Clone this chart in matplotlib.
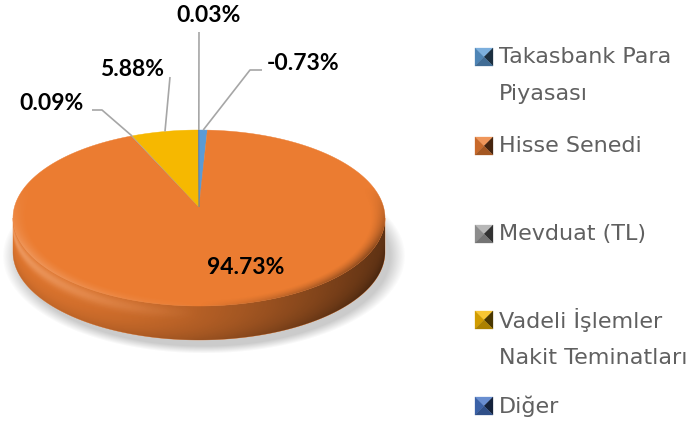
import numpy as np
import matplotlib
matplotlib.use("Agg")
import matplotlib.pyplot as plt
from matplotlib.patches import Polygon
from matplotlib.colors import to_rgb

# ---------------- data ----------------
categories = ["Takasbank Para\nPiyasası", "Hisse Senedi", "Mevduat (TL)",
              "Vadeli İşlemler\nNakit Teminatları", "Diğer"]
values = [-0.73, 94.73, 0.09, 5.88, 0.03]
value_labels = ["-0.73%", "94.73%", "0.09%", "5.88%", "0.03%"]
colors = ["#5B9BD5", "#EB7C31", "#A5A5A5", "#F6B800", "#4472C4"]

# ---------------- layout ----------------
W, H = 689, 423
fig = plt.figure(figsize=(W / 100, H / 100), dpi=100)
ax = fig.add_axes([0, 0, 1, 1])
ax.axis("off")

cx, cy, a, b, depth = 199, 218, 186, 88, 34
apex = (cx, cy - 11)

fr = np.abs(values) / np.sum(np.abs(values))
bounds = np.concatenate([[0.0], np.cumsum(fr)]) * 2 * np.pi


def pt(t, dy=0.0):
    t = np.asarray(t)
    return np.column_stack([cx + a * np.sin(t), cy - b * np.cos(t) + dy])


xs = np.arange(W) + 0.5
ys = np.arange(H) + 0.5
X, Y = np.meshgrid(xs, ys)
U = (X - cx) / a
V = (Y - cy) / b

# ---------------- shadow ----------------
rs = np.sqrt(((X - cx - 5) / (a + 4)) ** 2 + ((Y - cy - depth - 4) / (b + 4)) ** 2)
sh = np.zeros((H, W, 4))
sh[..., :3] = 0.5
sh[..., 3] = 0.4 * np.clip((1.06 - rs) / 0.08, 0, 1)
ax.imshow(sh, extent=(0, W, H, 0), origin="upper", zorder=1, interpolation="bilinear")

# ---------------- side ----------------
front_t = np.linspace(np.pi / 2, 3 * np.pi / 2, 200)
side_path = np.vstack([pt(front_t), pt(front_t[::-1], depth)])

for i, c in enumerate(colors):
    s0 = max(bounds[i], np.pi / 2)
    s1 = min(bounds[i + 1], 3 * np.pi / 2)
    if s1 > s0:
        tt = np.linspace(s0, s1, max(3, int(np.degrees(s1 - s0) * 2)))
        poly = np.vstack([pt(tt), pt(tt[::-1], depth)])
        ax.add_patch(Polygon(poly, closed=True, facecolor=c, edgecolor=c,
                             lw=0.3, zorder=2))

# shading overlay of the side
uu = np.clip(U, -1, 1)
ytop = cy + b * np.sqrt(np.clip(1 - uu ** 2, 0, 1))
frac = np.clip((Y - ytop) / depth, 0, 1)
dark = 0.05 + 0.55 * ((uu + 1) / 2) ** 1.6
light = np.clip(-uu, 0, 1) * 0.22 * np.exp(-((frac - 0.2) / 0.18) ** 2)
alpha_d = dark * (1 - light * 3).clip(0, 1) + 0.12 * frac ** 3
ov = np.zeros((H, W, 4))
ov[..., 3] = np.clip(alpha_d, 0, 1)
im = ax.imshow(ov, extent=(0, W, H, 0), origin="upper", zorder=3,
               interpolation="bilinear")
im.set_clip_path(Polygon(side_path, closed=True, transform=ax.transData))
ovl = np.zeros((H, W, 4))
ovl[..., :3] = 1.0
ovl[..., 3] = light
im2 = ax.imshow(ovl, extent=(0, W, H, 0), origin="upper", zorder=3,
                interpolation="bilinear")
im2.set_clip_path(Polygon(side_path, closed=True, transform=ax.transData))

# ---------------- top face ----------------
for i, c in enumerate(colors):
    t0, t1 = bounds[i], bounds[i + 1]
    tt = np.linspace(t0, t1, max(3, int(np.degrees(t1 - t0) * 2)))
    poly = np.vstack([[apex], pt(tt)])
    ax.add_patch(Polygon(poly, closed=True, facecolor=c, edgecolor=c,
                         lw=0.3, zorder=4))

# bevel on the rim of the top face
R = np.sqrt(U ** 2 + V ** 2)
bev = np.clip((R - 0.92) / 0.08, 0, 1) ** 1.5
wfront = np.clip(V * 1.4 + 0.5, 0, 1)
lx = -U
bv = np.zeros((H, W, 4))
bv[..., 3] = np.where(lx < 0, bev * wfront * 0.45 * (-lx), 0)
imb = ax.imshow(bv, extent=(0, W, H, 0), origin="upper", zorder=5,
                interpolation="bilinear")
imb.set_clip_path(Polygon(pt(np.linspace(0, 2 * np.pi, 400)), closed=True,
                          transform=ax.transData))
bw = np.zeros((H, W, 4))
bw[..., :3] = 1.0
bw[..., 3] = np.where(lx > 0, bev * wfront * 0.22 * lx, 0)
imw = ax.imshow(bw, extent=(0, W, H, 0), origin="upper", zorder=5,
                interpolation="bilinear")
imw.set_clip_path(Polygon(pt(np.linspace(0, 2 * np.pi, 400)), closed=True,
                          transform=ax.transData))

# ---------------- data labels ----------------
label_pos = [(303, 64), (246, 268), (52, 104), (132, 69), (209, 16)]
leader_pts = [[(262, 70), (250, 70)], None, [(92, 110), (102, 110)],
              [(170, 77)], [(199, 32)]]
lab_font = dict(family=["Lato", "DejaVu Sans"], weight="bold", size=16.5,
                color="black")
for i, lbl in enumerate(value_labels):
    ax.text(*label_pos[i], lbl, ha="center", va="center", zorder=8, **lab_font)
    if leader_pts[i] is not None:
        mid = (bounds[i] + bounds[i + 1]) / 2
        anchor = pt([mid])[0]
        pts = np.array(leader_pts[i] + [tuple(anchor)])
        ax.plot(pts[:, 0], pts[:, 1], color="#A6A6A6", lw=1.2, zorder=7,
                solid_capstyle="butt")

# ---------------- legend ----------------
leg_y = [57, 146, 234, 320, 406]
mx, ms = 475, 18
line_gap = 37.5


def shade(c, f):
    c = np.array(to_rgb(c))
    if f >= 1:
        return tuple(c + (1 - c) * (f - 1))
    return tuple(c * f)


for i, (lab, c) in enumerate(zip(categories, colors)):
    y0 = leg_y[i] - ms / 2
    x0 = mx
    cen = (x0 + ms / 2, y0 + ms / 2)
    tris = [
        ([(x0, y0), (x0 + ms, y0), cen], shade(c, 1.2)),
        ([(x0, y0), (x0, y0 + ms), cen], shade(c, 0.85)),
        ([(x0 + ms, y0), (x0 + ms, y0 + ms), cen], shade(c, 0.3)),
        ([(x0, y0 + ms), (x0 + ms, y0 + ms), cen], shade(c, 0.7)),
    ]
    for verts, col in tris:
        ax.add_patch(Polygon(verts, closed=True, facecolor=col, edgecolor=col,
                             lw=0.2, zorder=6))
    for j, line in enumerate(lab.split("\n")):
        ax.text(499, leg_y[i] + j * line_gap, line, ha="left", va="center",
                family=["DejaVu Sans"], size=16, color="#606060",
                zorder=8)

ax.set_xlim(0, W)
ax.set_ylim(H, 0)
ax.set_aspect("auto")
fig.savefig("out.png", dpi=100)
